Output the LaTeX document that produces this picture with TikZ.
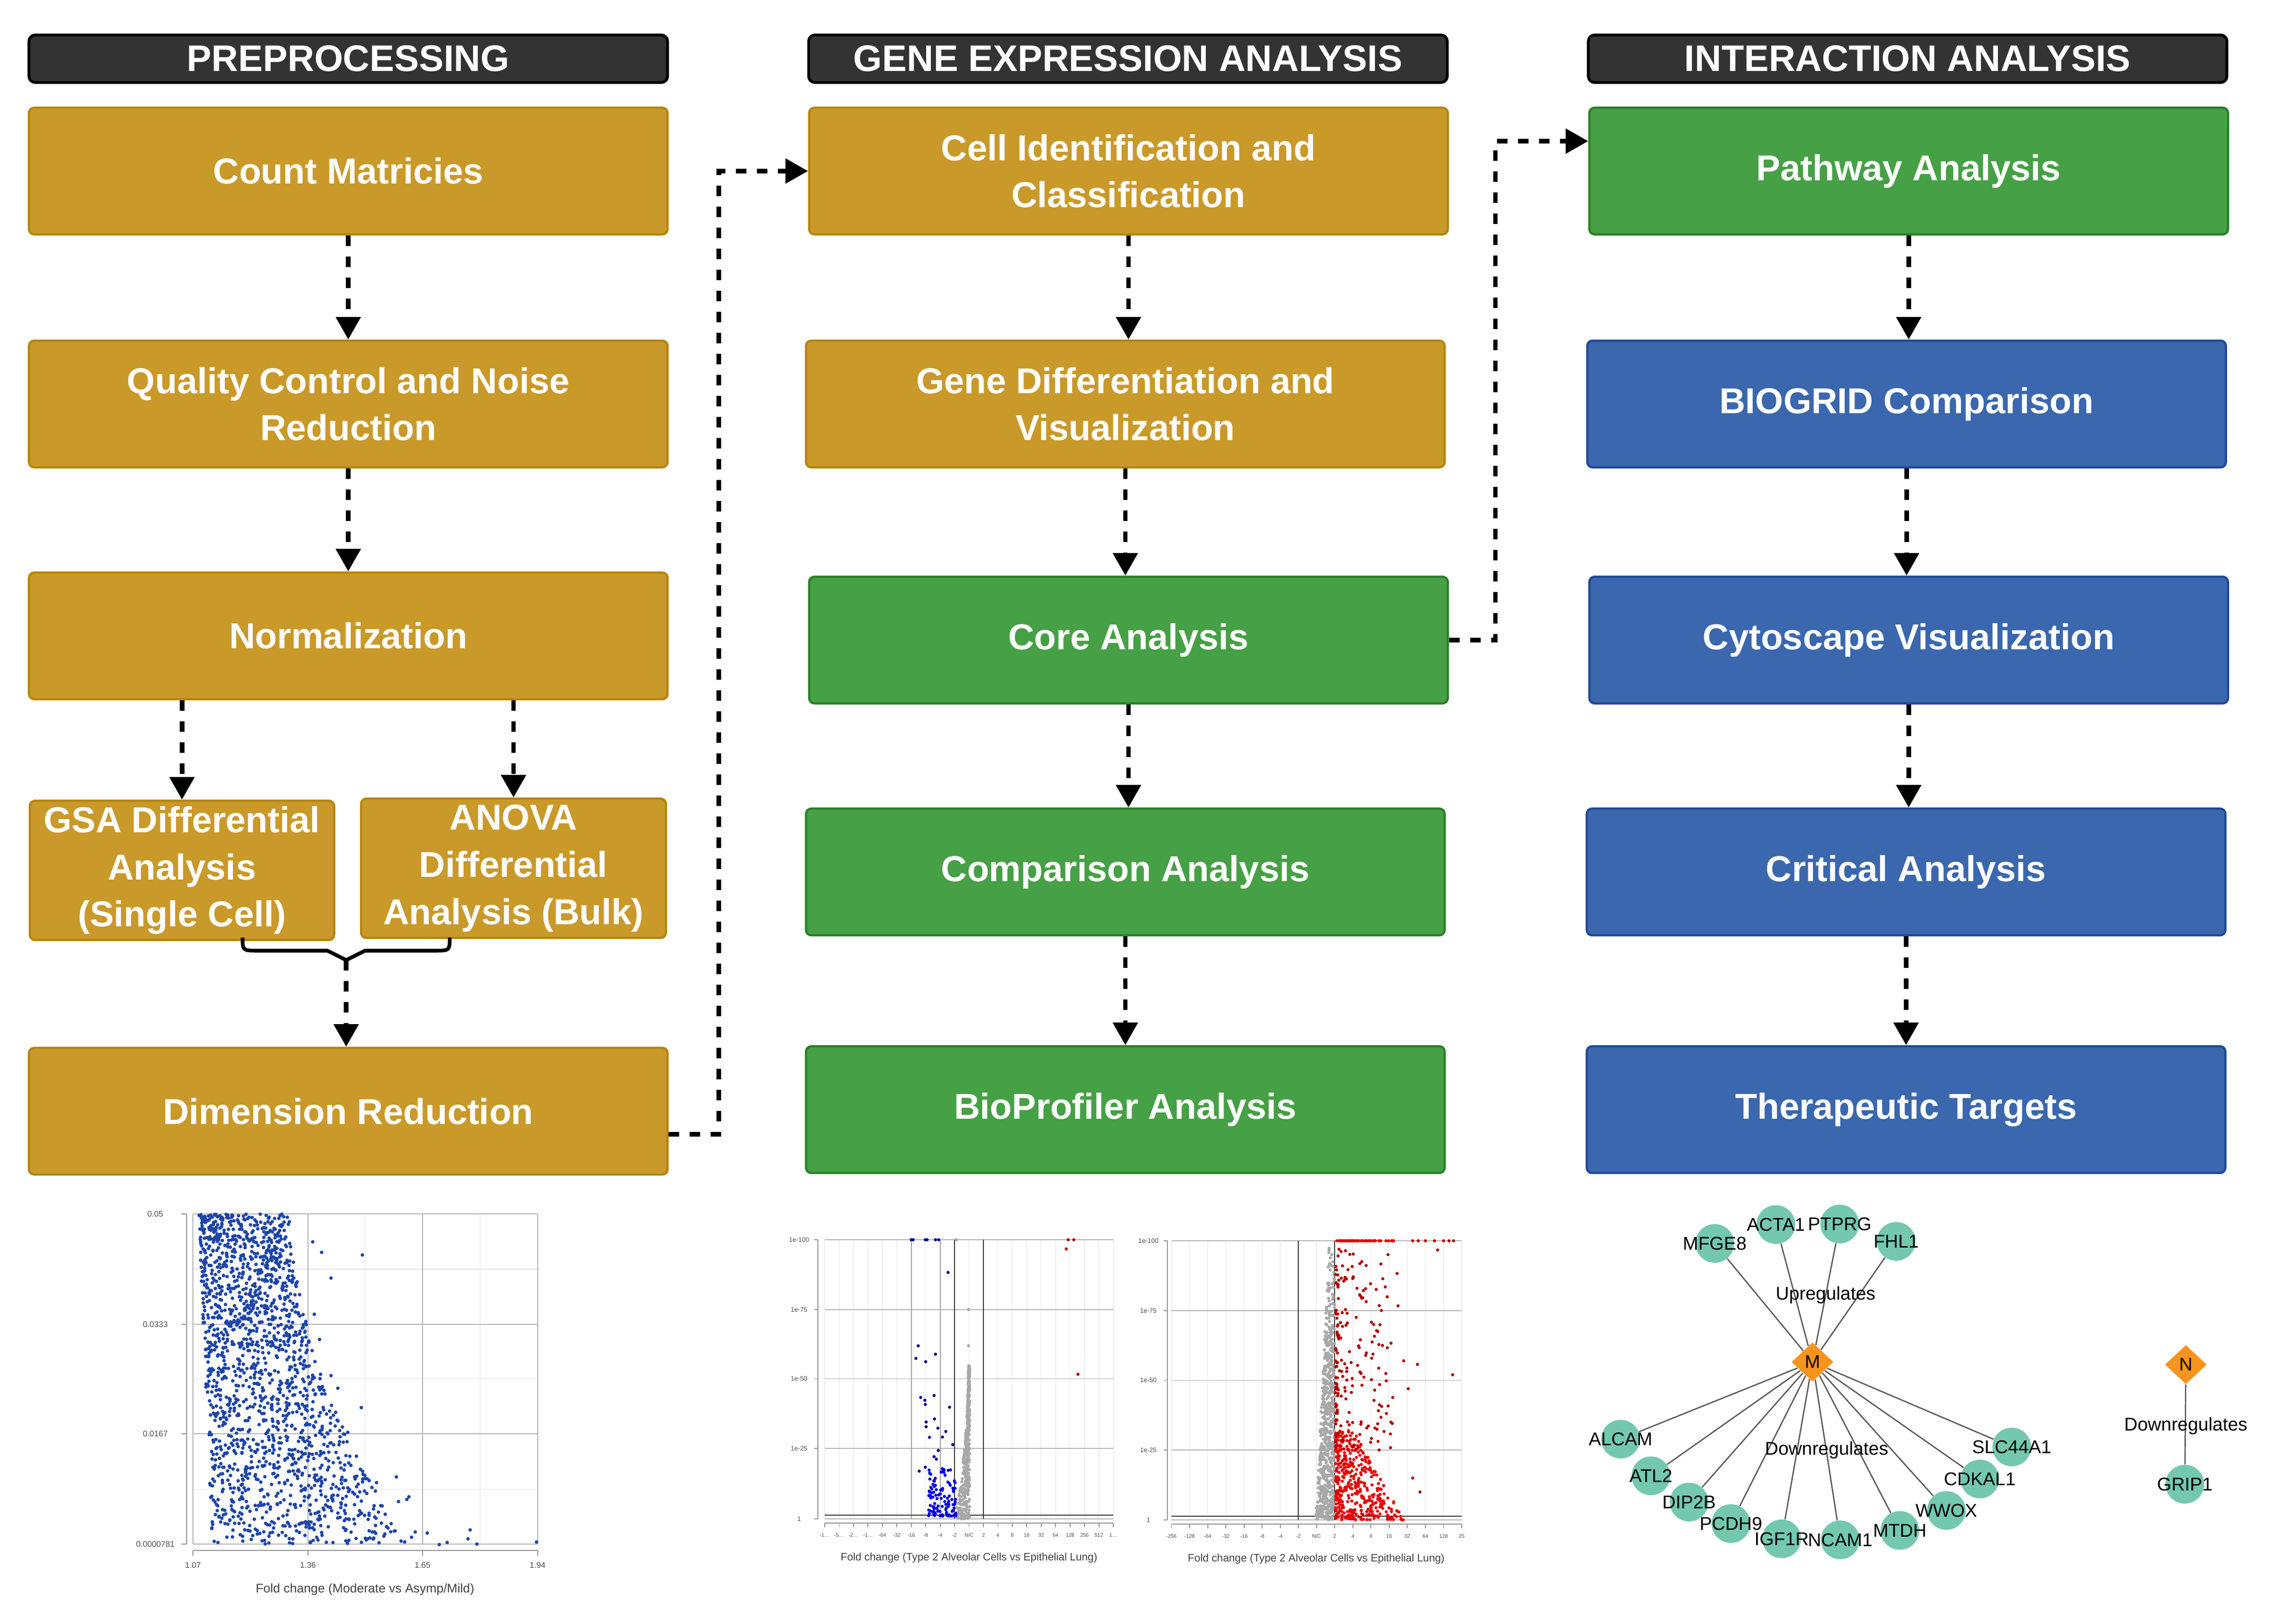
\documentclass[tikz,border=0pt]{standalone}
\usepackage{fontspec}
\setmainfont{Liberation Sans}
\usetikzlibrary{arrows.meta,calc,shapes.geometric}

\definecolor{goldfill}{HTML}{C9992A}
\definecolor{goldline}{HTML}{B5850F}
\definecolor{greenfill}{HTML}{46A045}
\definecolor{greenline}{HTML}{2B8026}
\definecolor{bluefill}{HTML}{3A67AD}
\definecolor{blueline}{HTML}{1F4A96}
\definecolor{headfill}{HTML}{333333}
\definecolor{tealnode}{HTML}{73C8AF}
\definecolor{orangenode}{HTML}{F7941E}
\definecolor{dotblue}{HTML}{1E45A8}
\definecolor{dotbright}{HTML}{0000E0}
\definecolor{dotnavy}{HTML}{00008C}
\definecolor{dotgray}{HTML}{A8A8A8}
\definecolor{dotred}{HTML}{E60000}
\definecolor{dotdarkred}{HTML}{B00000}

\begin{document}
\begin{tikzpicture}[x=0.00995cm, y=-0.009975cm,
        procbox/.style={rectangle, rounded corners=0.1cm, line width=1.2pt, minimum width=12.15cm,
            minimum height=2.41cm, inner sep=0pt, align=center, text=white,
            font=\fontsize{19.5}{25.5}\selectfont\bfseries},
        goldbox/.style={procbox, fill=goldfill, draw=goldline},
        greenbox/.style={procbox, fill=greenfill, draw=greenline},
        bluebox/.style={procbox, fill=bluefill, draw=blueline},
        header/.style={rectangle, rounded corners=0.12cm, fill=headfill, draw=black, line width=1.5pt,
            minimum width=12.15cm, minimum height=0.905cm, inner sep=0pt, text=white,
            font=\fontsize{20}{24}\selectfont\bfseries},
        link/.style={line width=2.5pt, dash pattern=on 0.2cm off 0.2cm},
        flow/.style={link, -{Triangle[width=0.46cm,length=0.43cm]}},
        curly/.style={line width=2pt, line join=round},
        gene/.style={circle, fill=tealnode, minimum size=0.736cm, inner sep=0pt},
        hub/.style={diamond, fill=orangenode, minimum width=0.796cm, minimum height=0.746cm, inner sep=0pt,
            font=\fontsize{10}{12}\selectfont},
        tie/.style={draw=black!65, line width=0.7pt},
        glabel/.style={inner sep=0pt, font=\fontsize{10}{12}\selectfont},
        gridlight/.style={draw=black!10, line width=0.3pt},
        griddark/.style={draw=black!28, line width=0.5pt},
        gridmid/.style={draw=black!35, line width=0.4pt},
        griddeep/.style={draw=black!75, line width=0.6pt},
        axisline/.style={draw=black!40, line width=0.5pt},
        ticklabel/.style={inner sep=0pt, text=black!70, font=\fontsize{4.4}{5}\selectfont},
        vlabel/.style={inner sep=0pt, text=black!70, font=\fontsize{3.5}{4}\selectfont},
        vtick/.style={inner sep=0pt, text=black!70, font=\fontsize{2.8}{3.4}\selectfont},
        axislabel/.style={inner sep=0pt, text=black!75, font=\fontsize{6.8}{8}\selectfont},
        vaxislabel/.style={inner sep=0pt, text=black!75, font=\fontsize{5.8}{7}\selectfont},
    ]
        \fill[white] (0cm,0cm) rectangle (43.32cm,-30.88cm);

        % column headers
        \node[header] (hpre) at (666,112) {PREPROCESSING};
        \node[header] (hgene) at (2157,112) {GENE EXPRESSION ANALYSIS};
        \node[header] (hinter) at (3648,112) {INTERACTION ANALYSIS};

        % preprocessing
        \node[goldbox] (count) at (666,326) {Count Matricies};
        \node[goldbox] (qc) at (666,770) {Quality Control and Noise\\Reduction};
        \node[goldbox] (norm) at (666,1212) {Normalization};
        \node[goldbox, minimum width=5.79cm, minimum height=2.65cm] (gsa) at (348,1659)
            {GSA Differential\\Analysis\\(Single Cell)};
        \node[goldbox, minimum width=5.80cm, minimum height=2.65cm] (anova) at (982,1655)
            {ANOVA\\Differential\\Analysis (Bulk)};
        \node[goldbox] (dimred) at (666,2118) {Dimension Reduction};

        % gene expression analysis
        \node[goldbox] (cellid) at (2158,326) {Cell Identification and\\Classification};
        \node[goldbox] (genediff) at (2152,770) {Gene Differentiation and\\Visualization};
        \node[greenbox] (core) at (2158,1220) {Core Analysis};
        \node[greenbox] (compar) at (2152,1662) {Comparison Analysis};
        \node[greenbox] (bioprof) at (2152,2115) {BioProfiler Analysis};

        % interaction analysis
        \node[greenbox] (pathway) at (3650,326) {Pathway Analysis};
        \node[bluebox] (biogrid) at (3646,770) {BIOGRID Comparison};
        \node[bluebox] (cytoscape) at (3650,1220) {Cytoscape Visualization};
        \node[bluebox] (critical) at (3645,1662) {Critical Analysis};
        \node[bluebox] (therap) at (3645,2115) {Therapeutic Targets};

        % vertical flow
        \foreach \a/\b in {count/qc, qc/norm, cellid/genediff, genediff/core, core/compar,
            compar/bioprof, pathway/biogrid, biogrid/cytoscape, cytoscape/critical, critical/therap}
            \draw[flow] (\a.south) -- (\a.south |- \b.north);
        \draw[flow] (gsa.north |- norm.south) -- (gsa.north);
        \draw[flow] (anova.north |- norm.south) -- (anova.north);

        % brace joining the two differential analyses
        \coordinate (bracetip) at (662,1830);
        \draw[curly] (464,1787) .. controls (464,1812) .. (494,1812) -- (626,1812) -- (bracetip)
            -- (698,1812) -- (830,1812) .. controls (860,1812) .. (860,1787);
        \draw[flow] (bracetip) -- (bracetip |- dimred.north);

        % links between columns
        \draw[flow] ($(dimred.east)+(0,44)$) -- ++(96,0) |- (cellid.west);
        \draw[flow] (core.east) -- ++(89,0) |- ($(pathway.west)+(0,-57)$);

        % scatter plot (preprocessing)
        \begin{scope}[yshift=-0.08cm]
            \foreach \gx in {479,698,918} \draw[gridlight] (\gx,2306) -- (\gx,2935);
            \foreach \gy in {2411,2620,2830} \draw[gridlight] (369,\gy) -- (1028,\gy);
            \foreach \gx in {369,589,808,1028} \draw[griddark] (\gx,2306) -- (\gx,2935);
            \foreach \gy in {2306,2516,2725,2935} \draw[griddark] (369,\gy) -- (1028,\gy);
            \draw[axisline] (357,2306) -- (357,2935);
            \foreach \gy/\t in {2306/0.05, 2516/0.0333, 2725/0.0167, 2935/0.0000781} {
                \draw[axisline] (347,\gy) -- (357,\gy);
                \node[ticklabel] at (297,\gy) {\t};
            }
            \draw[axisline] (369,2947) -- (1028,2947);
            \foreach \gx/\t in {369/1.07, 589/1.36, 808/1.65, 1028/1.94} {
                \draw[axisline] (\gx,2947) -- (\gx,2957);
                \node[ticklabel] at (\gx,2975) {\t};
            }
            \node[axislabel] at (698,3022) {Fold change (Moderate vs Asymp/Mild)};
            \pgfmathsetseed{4711}
            \foreach \k in {1,...,1750} {
                \pgfmathsetmacro\ra{max(rnd,0.001)}
                \pgfmathsetmacro\rb{max(rnd,0.001)}
                \pgfmathsetmacro\vv{\ra^1.15}
                \pgfmathsetmacro\px{380+26*\vv+(175+200*\vv*\vv)*\rb^1.15}
                \fill[dotblue] (\px,{2306+629*\vv}) circle (3.4);
            }
            \foreach \px/\py in {758/2807, 706/2814, 720/2818, 762/2854, 778/2850, 782/2845, 748/2896,
                734/2920, 787/2922, 794/2912, 817/2914, 840/2936, 855/2932, 895/2925, 899/2908, 912/2935,
                1026/2931, 712/2912, 704/2888, 697/2834, 718/2834, 691/2675, 693/2384, 633/2428, 615/2379,
                598/2359, 601/2497, 611/2545, 665/2722, 641/2710, 671/2785, 646/2638, 633/2614}
                \fill[dotblue] (\px,\py) circle (3.4);
        \end{scope}

        % volcano plot, left
        \begin{scope}[xshift=0.08cm, yshift=-0.04cm]
            \foreach \i in {0,...,20} \draw[gridlight] ({1569+27.6*\i},2359) -- ({1569+27.6*\i},2891);
            \foreach \gy in {2359,2492,2624,2757,2891} \draw[griddark] (1569,\gy) -- (2121,\gy);
            \draw[gridmid] (1735,2359) -- (1735,2891);
            \draw[gridmid] (1790,2359) -- (1790,2891);
            \draw[griddeep] (1817,2359) -- (1817,2891);
            \draw[griddeep] (1873,2359) -- (1873,2891);
            \draw[griddeep] (1569,2884) -- (2121,2884);
            \draw[axisline] (1556,2359) -- (1556,2891);
            \foreach \gy/\t in {2359/1e-100, 2492/1e-75, 2624/1e-50, 2757/1e-25, 2891/1} {
                \draw[axisline] (1549,\gy) -- (1556,\gy);
                \node[vlabel] at (1520,\gy) {\t};
            }
            \draw[axisline] (1569,2899) -- (2121,2899);
            \foreach \t [count=\i from 0] in {-1…,-5…,-2…,-1…,-64,-32,-16,-8,-4,-2,{N/C},2,4,8,16,32,64,128,256,512,1…} {
                \draw[axisline] ({1569+27.6*\i},2899) -- ++(0,8);
                \node[vtick] at ({1569+27.6*\i},2922) {\t};
            }
            \node[vaxislabel] at (1845,2965) {Fold change (Type 2 Alveolar Cells vs Epithelial Lung)};
            \foreach \k in {1,...,400} {
                \pgfmathsetmacro\ra{max(rnd,0.001)}
                \pgfmathsetmacro\vv{1-0.55*\ra^1.4}
                \pgfmathsetmacro\ww{1-\ra^1.4}
                \pgfmathsetmacro\ii{10.05-(0.1+0.95*\ww*\ww)*rnd}
                \fill[dotgray] ({1569+27.6*\ii},{2359+532*\vv}) circle (3);
            }
            \foreach \k in {1,...,110} {
                \pgfmathsetmacro\ra{max(rnd,0.001)}
                \pgfmathsetmacro\rb{max(rnd,0.001)}
                \fill[dotbright] ({1569+27.6*(9.1-1.9*\ra^1.2)},{2359+532*(0.99-0.17*\rb^1.6)}) circle (3);
            }
            \foreach \ii/\vv in {6.48/0.38, 6.32/0.425, 7.0/0.437, 7.68/0.41, 8.55/0.117, 6.65/0.565,
                6.94/0.575, 6.97/0.59, 7.58/0.558, 8.65/0.60, 7.03/0.653, 7.61/0.642, 7.03/0.67,
                7.84/0.675, 7.26/0.708, 8.16/0.707, 8.39/0.687, 8.87/0.734, 7.87/0.755, 7.58/0.777,
                7.74/0.786, 6.55/0.829, 6.97/0.815, 6.0/0, 6.13/0, 6.97/0, 7.1/0, 7.68/0, 7.9/0}
                \fill[dotnavy] ({1569+27.6*\ii},{2359+532*\vv}) circle (3);
            \foreach \ii/\vv in {9.13/0, 9.97/0.25, 9.97/0.38}
                \fill[dotgray] ({1569+27.6*\ii},{2359+532*\vv}) circle (3);
            \foreach \ii/\vv in {16.87/0, 17.26/0, 16.74/0.033, 17.55/0.482}
                \fill[dotdarkred] ({1569+27.6*\ii},{2359+532*\vv}) circle (3);
        \end{scope}

        % volcano plot, right
        \begin{scope}[xshift=0.14cm, yshift=-0.04cm]
            \foreach \i in {0,...,16} \draw[gridlight] ({2226+34.7*\i},2361) -- ({2226+34.7*\i},2893);
            \foreach \gy in {2361,2494,2627,2760,2893} \draw[griddark] (2226,\gy) -- (2781,\gy);
            \draw[griddeep] (2469,2361) -- (2469,2893);
            \draw[griddeep] (2538,2361) -- (2538,2893);
            \draw[griddeep] (2226,2886) -- (2781,2886);
            \draw[axisline] (2218,2361) -- (2218,2893);
            \foreach \gy/\t in {2361/1e-100, 2494/1e-75, 2627/1e-50, 2760/1e-25, 2893/1} {
                \draw[axisline] (2211,\gy) -- (2218,\gy);
                \node[vlabel] at (2182,\gy) {\t};
            }
            \draw[axisline] (2226,2901) -- (2781,2901);
            \foreach \t [count=\i from 0] in {-256,-128,-64,-32,-16,-8,-4,-2,{N/C},2,4,8,16,32,64,128,25} {
                \draw[axisline] ({2226+34.7*\i},2901) -- ++(0,8);
                \node[vtick] at ({2226+34.7*\i},2924) {\t};
            }
            \node[vaxislabel] at (2503,2967) {Fold change (Type 2 Alveolar Cells vs Epithelial Lung)};
            \foreach \k in {1,...,700} {
                \pgfmathsetmacro\ra{max(rnd,0.001)}
                \pgfmathsetmacro\vv{\ra^0.55}
                \pgfmathsetmacro\ii{9.0-(0.3+0.75*\vv)*rnd}
                \fill[dotgray] ({2226+34.7*\ii},{2361+532*\vv}) circle (3);
            }
            \foreach \k in {1,...,420} {
                \pgfmathsetmacro\ra{max(rnd,0.001)}
                \pgfmathsetmacro\rb{max(rnd,0.001)}
                \pgfmathsetmacro\vv{1-0.32*\rb^1.3}
                \pgfmathsetmacro\ii{9.05+(1.0+2.8*(1-\rb^1.3))*\ra^1.4}
                \fill[dotred] ({2226+34.7*\ii},{2361+532*\vv}) circle (3);
            }
            \foreach \k in {1,...,190} {
                \pgfmathsetmacro\ra{max(rnd,0.001)}
                \pgfmathsetmacro\vv{0.03+0.72*rnd}
                \fill[dotdarkred] ({2226+34.7*(9.05+3.2*\ra^2.2)},{2361+532*\vv}) circle (3);
            }
            \foreach \k in {1,...,45} {
                \pgfmathsetmacro\ra{max(rnd,0.001)}
                \fill[dotred] ({2226+34.7*(9.1+3.3*\ra^1.3)},2361) circle (3);
            }
            \foreach \ii/\vv in {13.3/0, 13.6/0, 14.0/0, 14.5/0, 15.0/0, 15.3/0, 15.55/0, 15.5/0.48,
                14.67/0.033, 13.7/0.90, 13.3/0.85, 13.56/0.443, 12.8/0.43, 13.05/0.53, 12.44/0.117,
                12.49/0.233}
                \fill[dotdarkred] ({2226+34.7*\ii},{2361+532*\vv}) circle (3);
        \end{scope}

        % interaction network
        \begin{scope}[xshift=0.14cm, yshift=-0.08cm]
            \foreach \n/\px/\py in {MFGE8/3265/2362, ACTA1/3382/2326, PTPRG/3504/2325, FHL1/3612/2358,
                ALCAM/3085/2735, ATL2/3143/2805, DIP2B/3216/2855, PCDH9/3296/2896, IGF1R/3393/2925,
                NCAM1/3505/2927, MTDH/3619/2909, WWOX/3708/2871, CDKAL1/3772/2811, SLC44A1/3833/2750,
                GRIP1/4164/2821}
                \node[gene] (\n) at (\px,\py) {};
            \node[hub] (M) at (3452,2588) {M};
            \node[hub] (N) at (4166,2593) {N};
            \foreach \n in {MFGE8,ACTA1,PTPRG,FHL1,ALCAM,ATL2,DIP2B,PCDH9,IGF1R,NCAM1,MTDH,WWOX,CDKAL1,SLC44A1}
                \draw[tie] (M) -- (\n);
            \draw[tie] (N) -- (GRIP1);
            \foreach \n in {MFGE8,ACTA1,PTPRG,FHL1,ALCAM,ATL2,DIP2B,PCDH9,IGF1R,NCAM1,MTDH,WWOX,CDKAL1,SLC44A1,GRIP1}
                \node[glabel] at (\n) {\n};
            \node[glabel] at (3477,2461) {Upregulates};
            \node[glabel] at (3479,2756) {Downregulates};
            \node[glabel] at (4166,2710) {Downregulates};
        \end{scope}

    \end{tikzpicture}
\end{document}
